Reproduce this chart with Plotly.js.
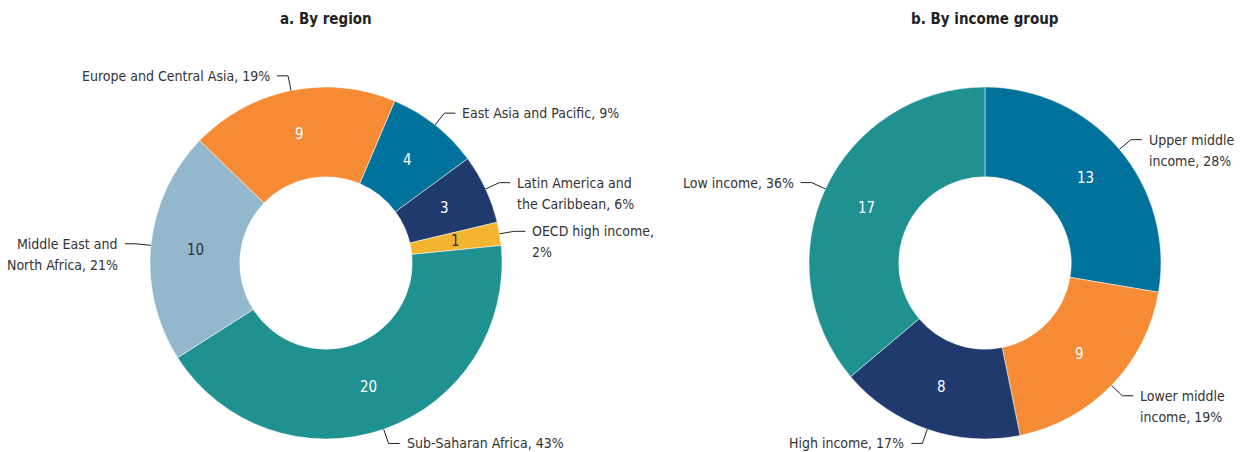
<!DOCTYPE html>
<html>
<head>
<meta charset="utf-8">
<script src="https://cdn.plot.ly/plotly-3.0.1.min.js"></script>
<style>html,body{margin:0;padding:0;background:#fff}#chart{width:1250px;height:452px}</style>
</head>
<body>
<div id="chart"></div>
<script>
// ---- data ----
const regionLabels = ['East Asia and Pacific', 'Latin America and<br>the Caribbean', 'OECD high income,<br>', 'Sub-Saharan Africa', 'Middle East and<br>North Africa', 'Europe and Central Asia'];
const regionValues = [4, 3, 1, 20, 10, 9];
const incomeLabels = ['Upper middle<br>income', 'Lower middle<br>income', 'High income', 'Low income'];
const incomeValues = [13, 9, 8, 17];
const panelTitles = ['a. By region', 'b. By income group'];

// ---- styles ----
const regionColors = ['#00729b', '#213a6e', '#f3b52f', '#1f9191', '#93b8ce', '#f58b35'];
const regionText = ['#ffffff', '#ffffff', '#333333', '#ffffff', '#333333', '#ffffff'];
const incomeColors = ['#00729b', '#f58b35', '#213a6e', '#1f9191'];
const incomeText = ['#ffffff', '#ffffff', '#ffffff', '#ffffff'];

const W = 1250, H = 452;
const HOLE = 0.49;
const FONT = '"DejaVu Sans Condensed", "Liberation Sans Narrow", sans-serif';
const TXT = '#333333';
const LINE_GAP = 21;

const domains = [
  {x: [150 / W, 502 / W], y: [1 - 439 / H, 1 - 87 / H]},
  {x: [809 / W, 1161 / W], y: [1 - 439 / H, 1 - 87 / H]}
];
const rotations = [23, 0];

function pieTrace(labels, values, colors, dom, rot) {
  return {
    type: 'pie', labels: labels.map((l, i) => 'L' + i + l), values: values,
    sort: false, direction: 'clockwise', rotation: rot, hole: HOLE,
    domain: dom,
    marker: {colors: colors, line: {color: '#ffffff', width: 0.5}},
    textinfo: 'none',
    hoverinfo: 'label+value', showlegend: false
  };
}

const shapes = [], annotations = [];

function callouts(labels, values, textColors, dom, rot) {
  const total = values.reduce((a, b) => a + b, 0);
  const cx = (dom.x[0] + dom.x[1]) / 2 * W;
  const cy = H - (dom.y[0] + dom.y[1]) / 2 * H;
  const R = Math.min((dom.x[1] - dom.x[0]) * W, (dom.y[1] - dom.y[0]) * H) / 2;
  const rMid = R * (1 + HOLE) / 2;
  const px = p => p[0] / W, py = p => 1 - p[1] / H;
  let cum = 0;
  values.forEach((v, i) => {
    const mid = (rot + (cum + v / 2) / total * 360) * Math.PI / 180;
    cum += v;
    const sx = Math.sin(mid), sy = -Math.cos(mid);
    // value inside the slice
    const pv = [cx + rMid * sx, cy + rMid * sy];
    annotations.push({xref: 'paper', yref: 'paper', x: px(pv), y: py(pv),
      xanchor: 'center', yanchor: 'middle', showarrow: false, text: String(v),
      font: {family: FONT, size: 15, color: textColors[i]}});
    // leader line + callout
    const p0 = [cx + R * sx, cy + R * sy];
    const p1 = [cx + (R + 15) * sx, cy + (R + 15) * sy];
    const side = sx >= 0 ? 1 : -1;
    const p2 = [p1[0] + side * 11, p1[1]];
    shapes.push({type: 'path', xref: 'paper', yref: 'paper',
      path: `M ${px(p0)},${py(p0)} L ${px(p1)},${py(p1)} L ${px(p2)},${py(p2)}`,
      line: {color: '#222222', width: 1}});
    const pct = Math.round(v / total * 100) + '%';
    const lab = labels[i];
    const text = lab.endsWith('<br>') ? lab + pct : lab + ', ' + pct;
    text.split('<br>').forEach((line, j) => {
      annotations.push({xref: 'paper', yref: 'paper', x: (p2[0] + side * 5) / W,
        y: 1 - (p2[1] + j * LINE_GAP) / H,
        xanchor: side > 0 ? 'left' : 'right', yanchor: 'middle',
        showarrow: false, text: line, font: {family: FONT, size: 14, color: TXT}});
    });
  });
}

callouts(regionLabels, regionValues, regionText, domains[0], rotations[0]);
callouts(incomeLabels, incomeValues, incomeText, domains[1], rotations[1]);

panelTitles.forEach((t, i) => {
  annotations.push({xref: 'paper', yref: 'paper', x: (domains[i].x[0] + domains[i].x[1]) / 2, y: 1 - 19 / H,
    xanchor: 'center', yanchor: 'middle', showarrow: false,
    text: '<b>' + t + '</b>', font: {family: FONT, size: 15, color: '#222222'}});
});

const data = [
  pieTrace(regionLabels, regionValues, regionColors, domains[0], rotations[0]),
  pieTrace(incomeLabels, incomeValues, incomeColors, domains[1], rotations[1])
];

const layout = {
  width: W, height: H, margin: {l: 0, r: 0, t: 0, b: 0},
  paper_bgcolor: '#ffffff', plot_bgcolor: '#ffffff',
  font: {family: FONT, color: TXT},
  shapes: shapes, annotations: annotations, showlegend: false
};

Plotly.newPlot('chart', data, layout, {displayModeBar: false, staticPlot: true});
</script>
</body>
</html>
